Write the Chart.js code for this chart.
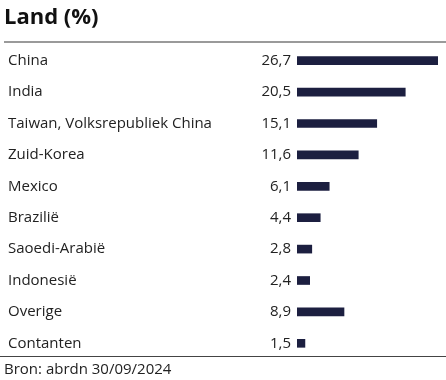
<!DOCTYPE html>
<html>
<head>
<meta charset="utf-8">
<script src="https://cdn.jsdelivr.net/npm/chart.js@4"></script>
<style>
  html, body { margin: 0; padding: 0; background: #fff; }
  #wrap { position: relative; width: 446px; height: 380px; }
</style>
</head>
<body>
<div id="wrap"><canvas id="myChart" width="446" height="380"></canvas></div>
<script>
// chart data
const countries = ['China', 'India', 'Taiwan, Volksrepubliek China', 'Zuid-Korea', 'Mexico',
    'Brazilië', 'Saoedi-Arabië', 'Indonesië', 'Overige', 'Contanten'];
const weights = [26.7, 20.5, 15.1, 11.6, 6.1, 4.4, 2.8, 2.4, 8.9, 1.5];
const title = 'Land (%)';
const source = 'Bron: abrdn 30/09/2024';

const font = '"Open Sans", sans-serif';

// draws title, row labels, values, rules and the source line
const tablePlugin = {
    id: 'tableText',
    afterDraw(chart) {
        const ctx = chart.ctx;
        const y = chart.scales.y;
        ctx.save();

        ctx.fillStyle = '#111';
        ctx.font = 'bold 22px ' + font;
        ctx.textBaseline = 'middle';
        ctx.textAlign = 'left';
        ctx.fillText(title, 4, 18);

        ctx.fillStyle = '#9a9a9a';
        ctx.fillRect(4, 41, 442, 2);

        ctx.font = '15px ' + font;
        ctx.fillStyle = '#222';
        countries.forEach((c, i) => {
            const py = y.getPixelForValue(i);
            ctx.textAlign = 'left';
            ctx.fillText(c, 8, py);
            ctx.textAlign = 'right';
            ctx.fillText(weights[i].toFixed(1).replace('.', ','), 291, py);
        });

        ctx.fillStyle = '#444';
        ctx.fillRect(0, 356, 446, 1);

        ctx.fillStyle = '#222';
        ctx.textAlign = 'left';
        ctx.fillText(source, 4, 370);
        ctx.restore();
    }
};

const ctx = document.getElementById('myChart').getContext('2d');
const chart = new Chart(ctx, {
    type: 'bar',
    data: {
        labels: countries,
        datasets: [{
            data: weights,
            backgroundColor: '#1c1f40',
            barThickness: 8
        }]
    },
    options: {
        indexAxis: 'y',
        responsive: false,
        animation: false,
        layout: { padding: { left: 297, right: 8, top: 45, bottom: 21 } },
        plugins: { legend: { display: false }, tooltip: { enabled: false } },
        scales: {
            x: { display: false, min: 0, max: 26.7 },
            y: { display: false }
        }
    },
    plugins: [tablePlugin]
});
</script>
</body>
</html>
